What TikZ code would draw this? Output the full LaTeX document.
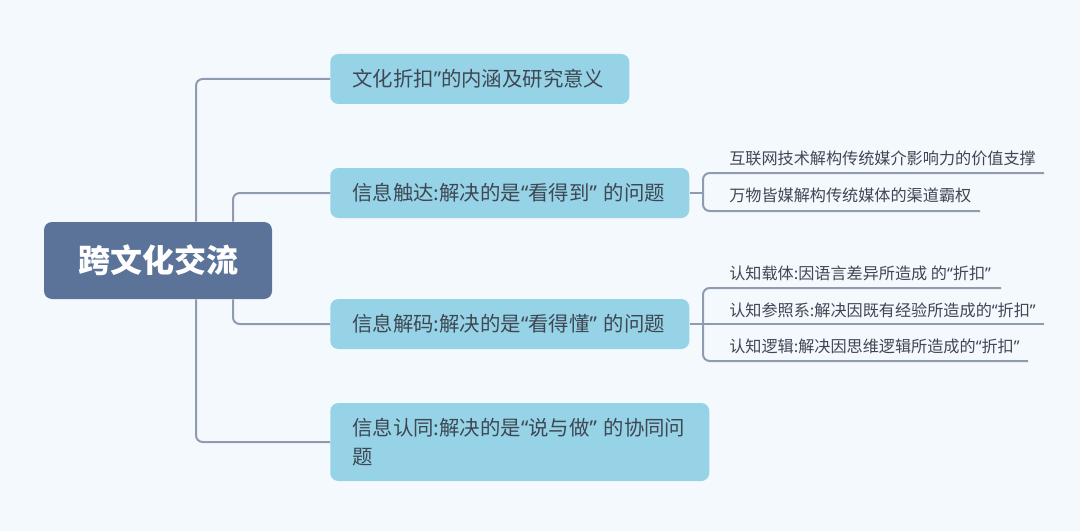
\documentclass[tikz,border=0pt]{standalone}
\usepackage{fontspec}
\setmainfont{Noto Sans CJK SC}
\newfontfamily\latinfont{Noto Sans}
\usetikzlibrary{positioning}
\definecolor{canvas}{HTML}{F4F9FD}
\definecolor{rootbg}{HTML}{5B7299}
\definecolor{topicbg}{HTML}{96D3E6}
\definecolor{branchline}{HTML}{8E9BB0}
\definecolor{ink}{HTML}{3E4753}
\newcommand{\qo}{{\latinfont “}}
\newcommand{\qc}{{\latinfont ”}}

\begin{document}
\begin{tikzpicture}[x=0.75pt,y=-0.75pt,
    root/.style={fill=rootbg,rounded corners=6pt,minimum width=171pt,
                 minimum height=57.75pt,text=white,
                 font=\fontsize{24}{28}\selectfont\bfseries},
    topic/.style={fill=topicbg,rounded corners=6pt,anchor=west,inner xsep=16.5pt,
                  inner ysep=0pt,minimum height=37.5pt,align=left,text=ink,
                  font=\fontsize{15.3}{21.75}\selectfont},
    sub/.style={anchor=base west,inner sep=0pt,text=ink,
                font=\fontsize{12.1}{14}\selectfont},
    branch/.style={draw=branchline,line width=1.5pt,rounded corners=5pt}
  ]

  % canvas
  \fill[canvas] (0,0) rectangle (1080,531);
  \useasboundingbox (0,0) rectangle (1080,531);

  % central topic
  \node[root] (root) at (158,260.5) {跨文化交流};

  % main topics
  \node[topic,text width=191.25pt] (b1) at (330,79)  {文化折扣\qc 的内涵及研究意义};
  \node[topic,text width=236.25pt] (b2) at (330,193) {信息触达:解决的是\qo 看得到\qc{} 的问题};
  \node[topic,text width=236.25pt] (b3) at (330,324) {信息解码:解决的是\qo 看得懂\qc{} 的问题};
  \node[topic,text width=251.25pt,minimum height=58.5pt] (b4) at (330,442)
       {信息认同:解决的是\qo 说与做\qc{} 的协同问\\题};

  \draw[branch] ([xshift=28.5pt]root.north) |- (b1.west);
  \draw[branch] ([xshift=56.25pt]root.north) |- (b2.west);
  \draw[branch] ([xshift=56.25pt]root.south) |- (b3.west);
  \draw[branch] ([xshift=28.5pt]root.south) |- (b4.west);

  % subtopics of b2
  \node[sub] (s1) at (729,164) {互联网技术解构传统媒介影响力的价值支撑};
  \node[sub] (s2) at (729,201) {万物皆媒解构传统媒体的渠道霸权};
  \coordinate (j2) at (703,193);
  \coordinate (s1end) at (1044,173);
  \coordinate (s2end) at (980,211);
  \draw[branch] (b2.east) -- (j2);
  \draw[branch] (j2) |- (s1end);
  \draw[branch] (j2) |- (s2end);

  % subtopics of b3
  \node[sub] (s3) at (729,279) {认知载体:因语言差异所造成 的\qo 折扣\qc};
  \node[sub] (s4) at (729,316) {认知参照系:解决因既有经验所造成的\qo 折扣\qc};
  \node[sub] (s5) at (729,352) {认知逻辑:解决因思维逻辑所造成的\qo 折扣\qc};
  \coordinate (j3) at (703,324);
  \coordinate (s3end) at (1001,288);
  \coordinate (s4end) at (1044,324);
  \coordinate (s5end) at (1028,361);
  \draw[branch] (b3.east) -- (j3);
  \draw[branch] (j3) |- (s3end);
  \draw[branch] (j3) -- (s4end);
  \draw[branch] (j3) |- (s5end);

\end{tikzpicture}
\end{document}
